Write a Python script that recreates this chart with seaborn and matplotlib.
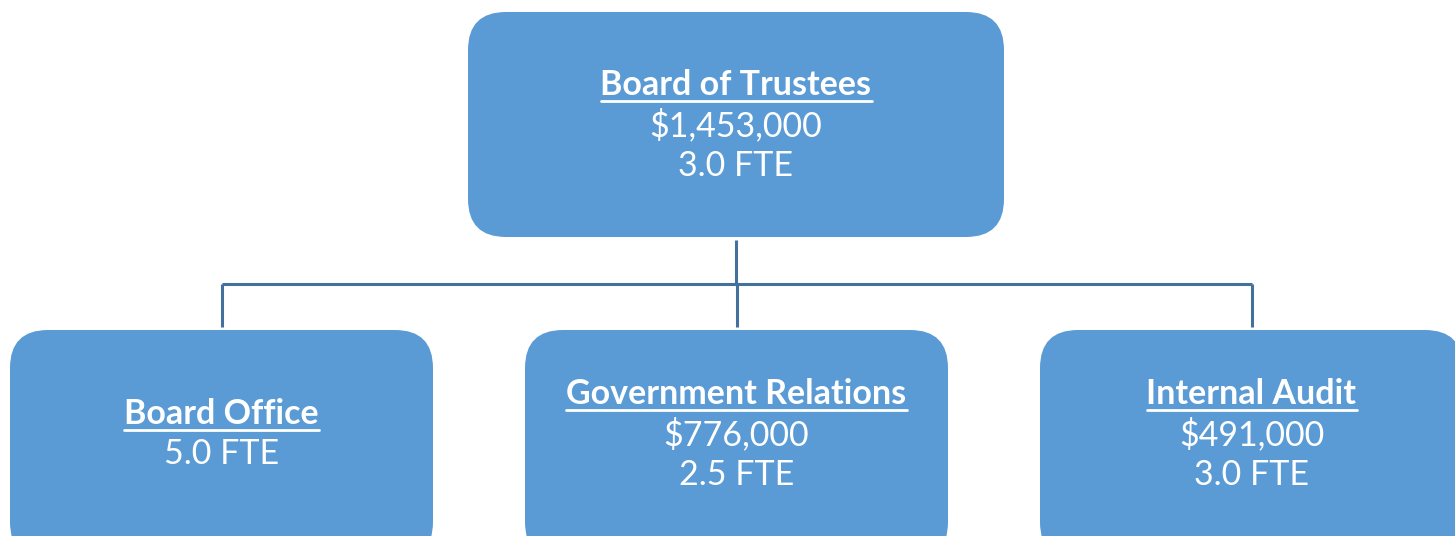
import matplotlib
matplotlib.use("Agg")
import matplotlib.pyplot as plt
from matplotlib.patches import FancyBboxPatch
import seaborn as sns

# org chart data
names = ["Board of Trustees", "Board Office", "Government Relations", "Internal Audit"]
budgets = ["$1,453,000", None, "$776,000", "$491,000"]
ftes = ["3.0 FTE", "5.0 FTE", "2.5 FTE", "3.0 FTE"]
parents = [None, 0, 0, 0]

# layout (pixels), x, y, w, h
boxes = [(468, 12, 536, 225), (10, 330, 423, 230), (525, 330, 423, 230), (1040, 330, 423, 230)]
text_y = [85, 414, 394, 394]
bus_y = 284

box_col = "#5B9BD5"
line_col = "#41719C"

sns.set_theme(style="white")
plt.rcParams['font.family'] = ['Lato', 'DejaVu Sans']

fig = plt.figure(figsize=(14.55, 5.36), dpi=100)
ax = fig.add_axes([0, 0, 1, 1])
ax.set_xlim(0, 1455)
ax.set_ylim(536, 0)
ax.axis("off")

# connectors
px, py, pw, ph = boxes[0]
pcx = px + pw / 2
child_cx = [boxes[i][0] + boxes[i][2] / 2 for i in range(len(names)) if parents[i] is not None]
ax.plot([pcx, pcx], [py + ph + 3, bus_y], color=line_col, lw=2.2, solid_capstyle="butt")
ax.plot([min(child_cx), max(child_cx)], [bus_y, bus_y], color=line_col, lw=2.2, solid_capstyle="butt")
for i in range(1, len(names)):
    cx = boxes[i][0] + boxes[i][2] / 2
    ax.plot([cx, cx], [bus_y, boxes[i][1] - 3], color=line_col, lw=2.2, solid_capstyle="butt")

fig.canvas.draw()
renderer = fig.canvas.get_renderer()
inv = ax.transData.inverted()

for i, name in enumerate(names):
    x, y, w, h = boxes[i]
    ax.add_patch(FancyBboxPatch((x, y), w, h, boxstyle="round,pad=0,rounding_size=38",
                                fc=box_col, ec="none"))
    cx = x + w / 2
    ty = text_y[i]
    t = ax.text(cx, ty, name, color="white", fontsize=24.5, fontweight="bold",
                ha="center", va="center")
    bb = t.get_window_extent(renderer)
    (x0, _), (x1, _) = inv.transform([[bb.x0, 0], [bb.x1, 0]])
    ax.plot([x0, x1], [ty + 16, ty + 16], color="white", lw=2)
    lines = [s for s in (budgets[i], ftes[i]) if s]
    for k, s in enumerate(lines):
        ax.text(cx, ty + 40.5 * (k + 1), s, color="white", fontsize=24.5,
                ha="center", va="center")

fig.savefig("out.png", dpi=100)
